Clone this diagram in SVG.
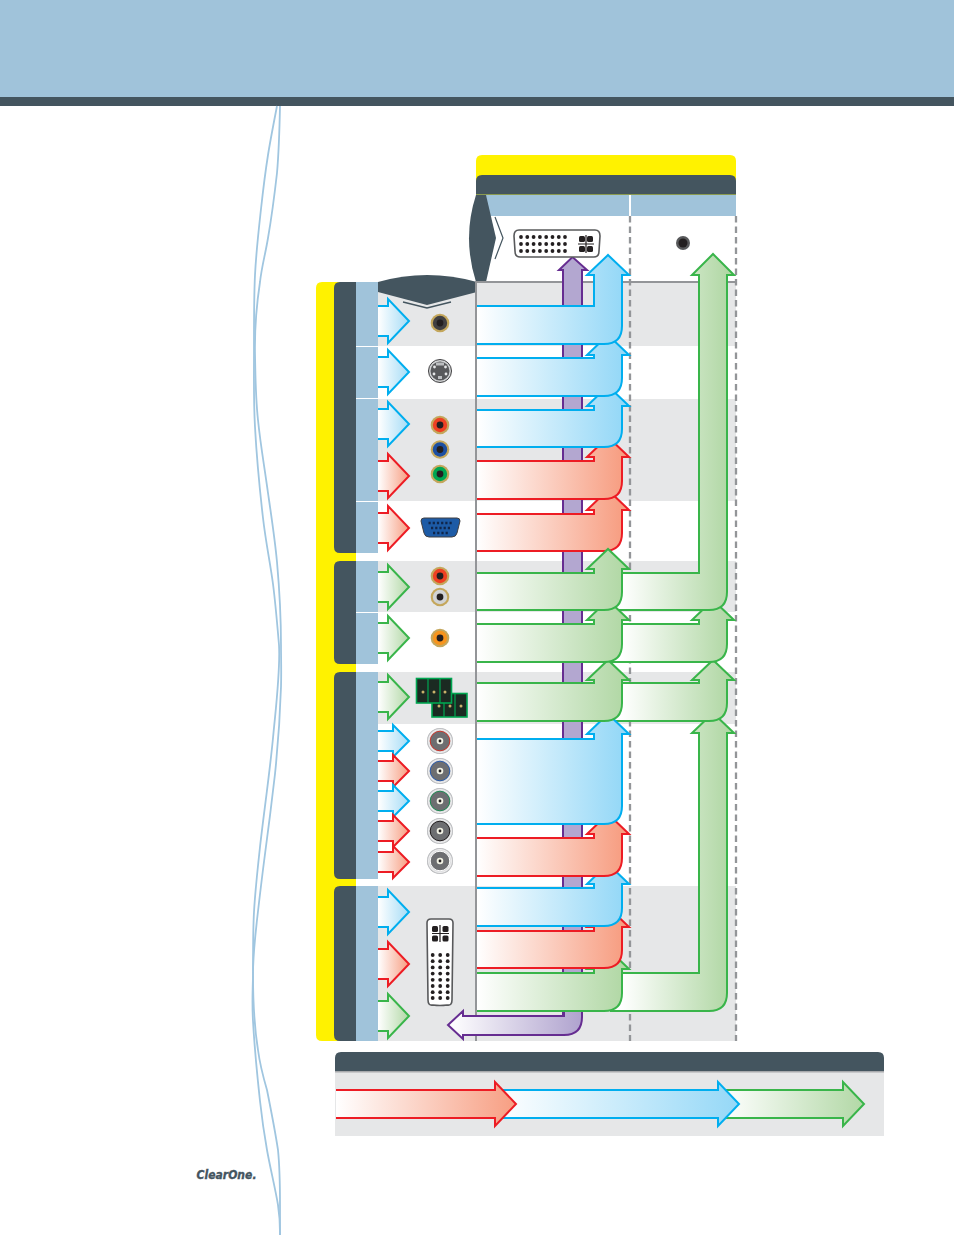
<svg xmlns="http://www.w3.org/2000/svg" width="954" height="1235" viewBox="0 0 954 1235">
<style>
.dark{fill:#44555f}.col{fill:#a0c3da}.row{fill:#e6e7e8}.yel{fill:#fff200}
.a{stroke-width:2;stroke-linejoin:miter;stroke-miterlimit:6}
.ab{stroke:#00aeef}.ar{stroke:#ed1c24}.ag{stroke:#39b54a}.ap{stroke:#662d91}
.dash{stroke:#939598;stroke-width:2.300;stroke-dasharray:6.500 4;fill:none}
.wave{fill:none;stroke:#a0c6e0;stroke-width:1.800}
.pin{fill:#231f20}.gold{fill:#c4a75c}.hole{fill:#231f20}
</style>
<defs>
<linearGradient id="blM" gradientUnits="userSpaceOnUse" x1="477" x2="622" y1="0" y2="0"><stop offset="0" stop-color="#fff"/><stop offset="1" stop-color="#95d8f7"/></linearGradient>
<linearGradient id="reM" gradientUnits="userSpaceOnUse" x1="477" x2="622" y1="0" y2="0"><stop offset="0" stop-color="#fff"/><stop offset="1" stop-color="#f79e82"/></linearGradient>
<linearGradient id="grM" gradientUnits="userSpaceOnUse" x1="477" x2="622" y1="0" y2="0"><stop offset="0" stop-color="#fff"/><stop offset="1" stop-color="#b2d8a6"/></linearGradient>
<linearGradient id="grR" gradientUnits="userSpaceOnUse" x1="622" x2="727" y1="0" y2="0"><stop offset="0" stop-color="#fff"/><stop offset="1" stop-color="#b2d8a6"/></linearGradient>
<linearGradient id="blL" gradientUnits="userSpaceOnUse" x1="378" x2="409" y1="0" y2="0"><stop offset="0" stop-color="#fff"/><stop offset="1" stop-color="#a5dcf6"/></linearGradient>
<linearGradient id="reL" gradientUnits="userSpaceOnUse" x1="378" x2="409" y1="0" y2="0"><stop offset="0" stop-color="#fff"/><stop offset="1" stop-color="#f79e82"/></linearGradient>
<linearGradient id="grL" gradientUnits="userSpaceOnUse" x1="378" x2="409" y1="0" y2="0"><stop offset="0" stop-color="#fff"/><stop offset="1" stop-color="#b2d8a6"/></linearGradient>
<linearGradient id="puH" gradientUnits="userSpaceOnUse" x1="450" x2="582" y1="0" y2="0"><stop offset="0" stop-color="#fff"/><stop offset="1" stop-color="#afa2ce"/></linearGradient>
<linearGradient id="reK" gradientUnits="userSpaceOnUse" x1="336" x2="516" y1="0" y2="0"><stop offset="0" stop-color="#fff"/><stop offset="1" stop-color="#f79e82"/></linearGradient>
<linearGradient id="blK" gradientUnits="userSpaceOnUse" x1="497" x2="739" y1="0" y2="0"><stop offset="0" stop-color="#fff"/><stop offset="1" stop-color="#95d8f7"/></linearGradient>
<linearGradient id="grK" gradientUnits="userSpaceOnUse" x1="722" x2="864" y1="0" y2="0"><stop offset="0" stop-color="#fff"/><stop offset="1" stop-color="#b2d8a6"/></linearGradient>
<radialGradient id="bncOuter"><stop offset="0.72" stop-color="#c8c9cb"/><stop offset="0.88" stop-color="#eeeeef"/><stop offset="1" stop-color="#a7a9ac"/></radialGradient>
<g id="bigL"><path class="a" d="M378 -15H388V-22L409 0L388 22V15H378"/></g>
<g id="smallL"><path class="a" d="M378 -10H393V-16L409 0L393 16V10H378"/></g>
<g id="rca"><circle r="9.300" class="gold"/><circle r="7.200" fill="currentColor"/><circle r="3.400" class="hole"/></g>
<g id="bnc"><circle r="13" fill="url(#bncOuter)"/><circle r="9.800" fill="#6d6e71" stroke="currentColor" stroke-width="1"/><circle r="3.300" fill="#f1f1e4"/><circle r="1.400" fill="#231f20"/></g>
<circle id="dot" r="1.900" class="pin"/>
<g id="dotRow"><use href="#dot" x="-7.500"/><use href="#dot"/><use href="#dot" x="7.500"/></g>
</defs>

<!-- page header band -->
<rect width="954" height="97" fill="#a0c3da"/>
<rect y="97" width="954" height="9" class="dark"/>

<!-- decorative wave lines -->
<path class="wave" d="M277 106C275.500 114 270.700 138 268 155C265.300 172 263.200 189 261 209C258.800 229 256.200 251 255 275C253.800 299 254 330 254 355C254 380 253.500 400 255 427C256.500 454 260 492 263 518C266 544 270.300 563 273 584C275.700 605 277.800 631 279 645C280.500 670 276.200 704 273 738C269.800 772 263.200 818 260 847C256.800 876 255.200 891 254 912C252.800 933 253.200 956 253 974C252.800 992 251.800 1000 253 1021C254.200 1042 257.700 1080 260 1101C262.300 1122 264 1133 267 1150C270 1167 275.800 1191 278 1205C280.200 1219 280 1230 280 1235"/>
<path class="wave" d="M280 106C279.500 130 279 150 277 173C274.500 195 272 215 268 238C265 256 262 265 260 282C256.500 305 254.500 330 255 355C255.500 378 255.500 397 258 420C260.500 445 264.500 467 268 493C271.500 517 275 540 277 562C279.500 590 281 615 281 645C281 660 281.500 672 281 687C280 718 278 745 275 774C272 800 268.500 828 265 854C262 877 259.500 898 257 920C255 938 253 955 253 974C253 1000 254.500 1028 258 1050C260 1065 263.500 1078 267 1090C271 1110 275 1130 278 1150C280 1170 280 1190 280 1205L280 1235"/>

<!-- table frame -->
<g id="frame">
<path class="yel" d="M476 195V161Q476 155 482 155H730Q736 155 736 161V195Z"/>
<path class="yel" d="M322 282H356V1041H322Q316 1041 316 1035V288Q316 282 322 282Z"/>
<path class="row" d="M378 282H736V346H378ZM378 399H736V501H378ZM378 561H736V612H378ZM378 672H736V724H378ZM378 886H736V1041H378Z"/>
<path class="dark" d="M476 194V181Q476 175 482 175H730Q736 175 736 181V194Z"/>
<rect x="476" y="194" width="260" height="1" fill="#8a9a50"/>
<rect x="486" y="195" width="250" height="21" class="col"/>
<rect x="629" y="195" width="2" height="21" fill="#fff"/>
<path class="dark" d="M476 195H486L496 238L486 282H476Q462 238 476 195Z"/>
<path d="M495 217L503 238L495 259" fill="none" stroke="#44555f" stroke-width="1.200"/>
<path d="M340 282H356V553H340Q334 553 334 547V288Q334 282 340 282Z" class="dark"/>
<path d="M340 561H356V664H340Q334 664 334 658V567Q334 561 340 561Z" class="dark"/>
<path d="M340 672H356V879H340Q334 879 334 873V678Q334 672 340 672Z" class="dark"/>
<path d="M340 886H356V1041H340Q334 1041 334 1035V892Q334 886 340 886Z" class="dark"/>
<path class="col" d="M356 282H378V346H356ZM356 347H378V398H356ZM356 399H378V501H356ZM356 502H378V553H356ZM356 561H378V612H356ZM356 613H378V664H356ZM356 672H378V879H356ZM356 886H378V1041H356Z"/>
<path class="dark" d="M378 282Q427 268 477 282V292L427 305L378 292Z"/>
<path d="M403 302L427 308L451 302" fill="none" stroke="#44555f" stroke-width="1.400"/>
<path d="M476 282H736" stroke="#939598" stroke-width="2" fill="none"/>
<path d="M476 281V1041" stroke="#939598" stroke-width="2" fill="none"/>
<path class="dash" d="M630 216V1041"/>
<path class="dash" d="M736 216V1041"/>
</g>

<!-- signal connectors -->
<g id="connectors">
<path class="a ap" fill="#b3a7d0" d="M563 1016V270H559L572.500 257L587 270H582V1016"/>
<path class="a ap" fill="url(#puH)" d="M564 1016V1000H582V1017Q582 1035 564 1035H463V1039L448 1025L463 1011V1016Z"/>

<path class="a ag" fill="url(#grR)" d="M610 973H699V733H692L713 713L734 733H727V993Q727 1011 709 1011H610"/>
<path class="a ag" fill="url(#grR)" d="M610 683H699V680H692L713 660L734 680H727V703Q727 721 709 721H610"/>
<path class="a ag" fill="url(#grR)" d="M610 624H699V620H692L713 600L734 620H727V644Q727 662 709 662H610"/>
<path class="a ag" fill="url(#grR)" d="M610 573H699V275H692L713 254L734 275H727V592Q727 610 709 610H610"/>

<path class="a ag" fill="url(#grM)" d="M477 973H594V969H587L608 949L629 969H622V993Q622 1011 604 1011H477"/>
<path class="a ar" fill="url(#reM)" d="M477 931H594V927H587L608 907L629 927H622V950Q622 968 604 968H477"/>
<path class="a ab" fill="url(#blM)" d="M477 888H594V884H587L608 864L629 884H622V908Q622 926 604 926H477"/>
<path class="a ar" fill="url(#reM)" d="M477 838H594V834H587L608 814L629 834H622V858Q622 876 604 876H477"/>
<path class="a ab" fill="url(#blM)" d="M477 739H594V734H587L608 714L629 734H622V806Q622 824 604 824H477"/>
<path class="a ag" fill="url(#grM)" d="M477 683H594V680H587L608 660L629 680H622V703Q622 721 604 721H477"/>
<path class="a ag" fill="url(#grM)" d="M477 624H594V620H587L608 600L629 620H622V644Q622 662 604 662H477"/>
<path class="a ar" fill="url(#reM)" d="M477 514H594V510H587L608 490L629 510H622V533Q622 551 604 551H477"/>
<path class="a ag" fill="url(#grM)" d="M477 573H594V569H587L608 549L629 569H622V592Q622 610 604 610H477"/>
<path class="a ar" fill="url(#reM)" d="M477 461H594V457H587L608 437L629 457H622V481Q622 499 604 499H477"/>
<path class="a ab" fill="url(#blM)" d="M477 410H594V406H587L608 386L629 406H622V429Q622 447 604 447H477"/>
<path class="a ab" fill="url(#blM)" d="M477 358H594V355H587L608 335L629 355H622V378Q622 396 604 396H477"/>
<path class="a ab" fill="url(#blM)" d="M477 306H594V275H587L608 255L629 275H622V326Q622 344 604 344H477"/>

<use href="#bigL" class="ab" fill="url(#blL)" transform="translate(0 321)"/>
<use href="#bigL" class="ab" fill="url(#blL)" transform="translate(0 372)"/>
<use href="#bigL" class="ab" fill="url(#blL)" transform="translate(0 424)"/>
<use href="#bigL" class="ar" fill="url(#reL)" transform="translate(0 476)"/>
<use href="#bigL" class="ar" fill="url(#reL)" transform="translate(0 528)"/>
<use href="#bigL" class="ag" fill="url(#grL)" transform="translate(0 587)"/>
<use href="#bigL" class="ag" fill="url(#grL)" transform="translate(0 638)"/>
<use href="#bigL" class="ag" fill="url(#grL)" transform="translate(0 697)"/>
<use href="#smallL" class="ab" fill="url(#blL)" transform="translate(0 741)"/>
<use href="#smallL" class="ar" fill="url(#reL)" transform="translate(0 771)"/>
<use href="#smallL" class="ab" fill="url(#blL)" transform="translate(0 801)"/>
<use href="#smallL" class="ar" fill="url(#reL)" transform="translate(0 831)"/>
<use href="#smallL" class="ar" fill="url(#reL)" transform="translate(0 862)"/>
<use href="#bigL" class="ab" fill="url(#blL)" transform="translate(0 912)"/>
<use href="#bigL" class="ar" fill="url(#reL)" transform="translate(0 964)"/>
<use href="#bigL" class="ag" fill="url(#grL)" transform="translate(0 1016)"/>
</g>

<!-- output connectors -->
<g id="dvi-output">
<path d="M519 230H595Q600 230 600 236L599 251Q599 257 594 257H520Q515 257 515 251L514 236Q514 230 519 230Z" fill="#fff" stroke="#58595b" stroke-width="1.600"/>
<g id="dvi-pins"><use href="#dot" x="521" y="237"/><use href="#dot" x="527.300" y="237"/><use href="#dot" x="533.600" y="237"/><use href="#dot" x="539.900" y="237"/><use href="#dot" x="546.200" y="237"/><use href="#dot" x="552.500" y="237"/><use href="#dot" x="558.800" y="237"/><use href="#dot" x="565" y="237"/>
<use href="#dot" x="521" y="244"/><use href="#dot" x="527.300" y="244"/><use href="#dot" x="533.600" y="244"/><use href="#dot" x="539.900" y="244"/><use href="#dot" x="546.200" y="244"/><use href="#dot" x="552.500" y="244"/><use href="#dot" x="558.800" y="244"/><use href="#dot" x="565" y="244"/>
<use href="#dot" x="521" y="251"/><use href="#dot" x="527.300" y="251"/><use href="#dot" x="533.600" y="251"/><use href="#dot" x="539.900" y="251"/><use href="#dot" x="546.200" y="251"/><use href="#dot" x="552.500" y="251"/><use href="#dot" x="558.800" y="251"/><use href="#dot" x="565" y="251"/></g>
<rect x="579" y="236" width="6" height="6" rx="1.500" class="pin"/><rect x="587" y="236" width="6" height="6" rx="1.500" class="pin"/><rect x="579" y="246" width="6" height="6" rx="1.500" class="pin"/><rect x="587" y="246" width="6" height="6" rx="1.500" class="pin"/>
<path d="M578 244H594M586 235V253" stroke="#231f20" stroke-width="1.200"/>
</g>
<g id="audio-output"><circle cx="683" cy="243" r="7" fill="#58595b"/><circle cx="683" cy="243" r="4.500" fill="#231f20"/></g>

<!-- input connectors -->
<g id="composite-in"><use href="#rca" x="440" y="323" color="#414042"/></g>
<g id="svideo-in"><circle cx="440" cy="371" r="11.500" fill="#d1d3d4" stroke="#414042" stroke-width="1"/><circle cx="440" cy="371" r="9.500" fill="#58595b"/><rect x="436" y="362.500" width="8" height="3" fill="#bcbec0"/><circle cx="434.500" cy="367" r="1.400" fill="#e6e7e8"/><circle cx="445.500" cy="367" r="1.400" fill="#e6e7e8"/><circle cx="434" cy="374" r="1.400" fill="#e6e7e8"/><circle cx="446" cy="374" r="1.400" fill="#e6e7e8"/><rect x="438" y="376" width="4" height="3" fill="#bcbec0"/></g>
<g id="component-in"><use href="#rca" x="440" y="425" color="#ef4123"/><use href="#rca" x="440" y="449.500" color="#1c4fa1"/><use href="#rca" x="440" y="474" color="#00a651"/></g>
<g id="vga-in"><path d="M424 518H457Q460 518 460 521L457 533Q456 537 452 537H429Q425 537 424 533L421 521Q421 518 424 518Z" fill="#1d5ba6" stroke="#414042" stroke-width="1"/>
<path d="M428.500 523H452M431 528H450M433 533H448" stroke="#10264a" stroke-width="2.500" stroke-dasharray="2.200 2" fill="none"/></g>
<g id="stereo-in"><use href="#rca" x="440" y="576" color="#ef4123"/><use href="#rca" x="440" y="597" color="#d1d3d4"/></g>
<g id="spdif-in"><use href="#rca" x="440" y="638" color="#f7941d"/></g>
<g id="phoenix-in">
<rect x="432" y="693.500" width="35" height="23.500" fill="#1b2a22" stroke="#00a651" stroke-width="1.600"/>
<path d="M444 694V717M455 694V717" stroke="#00a651" stroke-width="1.200"/>
<rect x="416.500" y="678.500" width="35" height="24.500" fill="#1b2a22" stroke="#00a651" stroke-width="1.600"/>
<path d="M428 679V703M440 679V703" stroke="#00a651" stroke-width="1.200"/>
<g fill="#c9b26a"><circle cx="423" cy="692" r="1.500"/><circle cx="434" cy="692" r="1.500"/><circle cx="445" cy="692" r="1.500"/><circle cx="439" cy="706" r="1.500"/><circle cx="450" cy="706" r="1.500"/><circle cx="461" cy="706" r="1.500"/></g>
</g>
<g id="bnc-in"><use href="#bnc" x="440" y="741" color="#c8352b"/><use href="#bnc" x="440" y="771" color="#2a5aa8"/><use href="#bnc" x="440" y="801" color="#1f8a52"/><use href="#bnc" x="440" y="831" color="#231f20"/><use href="#bnc" x="440" y="861" color="#ffffff"/></g>
<g id="dvi-in">
<path d="M431 919H449Q453 919 453 923L452 1000Q452 1006 447 1005Q440 1006 433 1005Q428 1006 428 1000L427 923Q427 919 431 919Z" fill="#fff" stroke="#58595b" stroke-width="1.600"/>
<rect x="432" y="926" width="6" height="6" rx="1.500" class="pin"/><rect x="442.500" y="926" width="6" height="6" rx="1.500" class="pin"/><rect x="432" y="935.500" width="6" height="6" rx="1.500" class="pin"/><rect x="442.500" y="935.500" width="6" height="6" rx="1.500" class="pin"/>
<path d="M432 933.500H449M440 925V942" stroke="#231f20" stroke-width="1.200"/>
<use href="#dotRow" x="440.200" y="955"/><use href="#dotRow" x="440.200" y="961.200"/><use href="#dotRow" x="440.200" y="967.400"/><use href="#dotRow" x="440.200" y="973.600"/><use href="#dotRow" x="440.200" y="979.800"/><use href="#dotRow" x="440.200" y="986"/><use href="#dotRow" x="440.200" y="992.200"/><use href="#dotRow" x="440.200" y="998"/>
</g>

<!-- colour legend -->
<g id="legend">
<path class="dark" d="M335 1071V1058Q335 1052 341 1052H878Q884 1052 884 1058V1071Z"/>
<rect x="335" y="1071" width="549" height="65" class="row"/>
<rect x="335" y="1071" width="549" height="1.500" fill="#a7a9ac"/>
<path class="a ag" fill="url(#grK)" d="M722 1090H843V1082L864 1104L843 1126V1118H722"/>
<path class="a ab" fill="url(#blK)" d="M500 1090H718V1082L739 1104L718 1126V1118H500"/>
<path class="a ar" fill="url(#reK)" d="M336 1090H495V1082L516 1104L495 1126V1118H336"/>
</g>

<!-- maker's mark -->
<g id="logo"><text x="196.500" y="1178.500" font-family="DejaVu Sans, Liberation Sans, sans-serif" font-size="11.500" font-weight="700" font-style="italic" fill="#44555f" stroke="#44555f" stroke-width="0.350" textLength="60" lengthAdjust="spacingAndGlyphs">ClearOne.</text></g>
</svg>
